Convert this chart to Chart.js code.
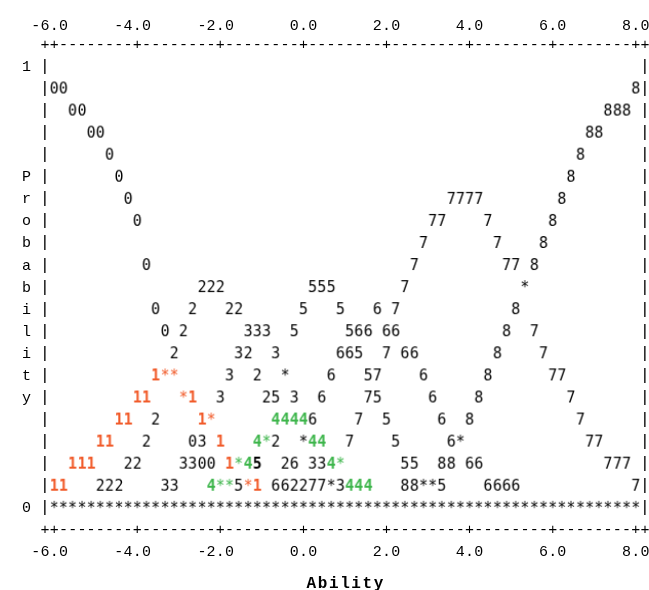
<!DOCTYPE html>
<html>
<head>
<meta charset="utf-8">
<title>Category probability curves</title>
<script src="https://cdn.jsdelivr.net/npm/chart.js@4.4.1/dist/chart.umd.min.js"></script>
<style>
  html, body { margin: 0; padding: 0; background: #ffffff; }
  canvas { display: block; }
</style>
</head>
<body>
<canvas id="chart" width="649" height="590"></canvas>
<script>
// Rating-scale categories, each plotted with its own digit
const categories = ['0', '1', '2', '3', '4', '5', '6', '7', '8'];

// Ability (logits) of each plotting column
const abilities = [
  -6.00, -5.78, -5.56, -5.33, -5.11, -4.89, -4.67, -4.44, -4.22, -4.00,
  -3.78, -3.56, -3.33, -3.11, -2.89, -2.67, -2.44, -2.22, -2.00, -1.78,
  -1.56, -1.33, -1.11, -0.89, -0.67, -0.44, -0.22, 0.00, 0.22, 0.44,
  0.67, 0.89, 1.11, 1.33, 1.56, 1.78, 2.00, 2.22, 2.44, 2.67,
  2.89, 3.11, 3.33, 3.56, 3.78, 4.00, 4.22, 4.44, 4.67, 4.89,
  5.11, 5.33, 5.56, 5.78, 6.00, 6.22, 6.44, 6.67, 6.89, 7.11,
  7.33, 7.56, 7.78, 8.00
];

// Probability of each category at each ability (printed to the nearest 0.05)
const prob0 = [
  0.95, 0.95, 0.90, 0.90, 0.85, 0.85, 0.80, 0.75, 0.70, 0.65,
  0.55, 0.45, 0.40, 0.30, 0.25, 0.15, 0.10, 0.10, 0.05, 0.05,
  0, 0, 0, 0, 0, 0, 0, 0, 0, 0,
  0, 0, 0, 0, 0, 0, 0, 0, 0, 0,
  0, 0, 0, 0, 0, 0, 0, 0, 0, 0,
  0, 0, 0, 0, 0, 0, 0, 0, 0, 0,
  0, 0, 0, 0
];
const prob1 = [
  0.05, 0.05, 0.10, 0.10, 0.10, 0.15, 0.15, 0.20, 0.20, 0.25,
  0.25, 0.30, 0.30, 0.30, 0.25, 0.25, 0.20, 0.20, 0.15, 0.10,
  0.10, 0.05, 0.05, 0, 0, 0, 0, 0, 0, 0,
  0, 0, 0, 0, 0, 0, 0, 0, 0, 0,
  0, 0, 0, 0, 0, 0, 0, 0, 0, 0,
  0, 0, 0, 0, 0, 0, 0, 0, 0, 0,
  0, 0, 0, 0
];
const prob2 = [
  0, 0, 0, 0, 0, 0.05, 0.05, 0.05, 0.10, 0.10,
  0.15, 0.20, 0.30, 0.35, 0.40, 0.45, 0.50, 0.50, 0.50, 0.45,
  0.45, 0.35, 0.30, 0.25, 0.15, 0.10, 0.05, 0.05, 0, 0,
  0, 0, 0, 0, 0, 0, 0, 0, 0, 0,
  0, 0, 0, 0, 0, 0, 0, 0, 0, 0,
  0, 0, 0, 0, 0, 0, 0, 0, 0, 0,
  0, 0, 0, 0
];
const prob3 = [
  0, 0, 0, 0, 0, 0, 0, 0, 0, 0,
  0, 0, 0.05, 0.05, 0.10, 0.10, 0.15, 0.20, 0.25, 0.30,
  0.35, 0.40, 0.40, 0.40, 0.35, 0.30, 0.25, 0.15, 0.10, 0.10,
  0.05, 0.05, 0, 0, 0, 0, 0, 0, 0, 0,
  0, 0, 0, 0, 0, 0, 0, 0, 0, 0,
  0, 0, 0, 0, 0, 0, 0, 0, 0, 0,
  0, 0, 0, 0
];
const prob4 = [
  0, 0, 0, 0, 0, 0, 0, 0, 0, 0,
  0, 0, 0, 0, 0, 0, 0, 0.05, 0.05, 0.05,
  0.10, 0.10, 0.15, 0.15, 0.20, 0.20, 0.20, 0.20, 0.15, 0.15,
  0.10, 0.10, 0.05, 0.05, 0.05, 0, 0, 0, 0, 0,
  0, 0, 0, 0, 0, 0, 0, 0, 0, 0,
  0, 0, 0, 0, 0, 0, 0, 0, 0, 0,
  0, 0, 0, 0
];
const prob5 = [
  0, 0, 0, 0, 0, 0, 0, 0, 0, 0,
  0, 0, 0, 0, 0, 0, 0, 0, 0, 0,
  0.05, 0.05, 0.10, 0.15, 0.25, 0.30, 0.40, 0.45, 0.50, 0.50,
  0.50, 0.45, 0.40, 0.35, 0.30, 0.25, 0.20, 0.15, 0.10, 0.10,
  0.05, 0.05, 0.05, 0, 0, 0, 0, 0, 0, 0,
  0, 0, 0, 0, 0, 0, 0, 0, 0, 0,
  0, 0, 0, 0
];
const prob6 = [
  0, 0, 0, 0, 0, 0, 0, 0, 0, 0,
  0, 0, 0, 0, 0, 0, 0, 0, 0, 0,
  0, 0, 0, 0, 0.05, 0.05, 0.10, 0.15, 0.20, 0.25,
  0.30, 0.35, 0.35, 0.40, 0.40, 0.45, 0.40, 0.40, 0.35, 0.35,
  0.30, 0.25, 0.20, 0.15, 0.15, 0.10, 0.10, 0.05, 0.05, 0.05,
  0.05, 0, 0, 0, 0, 0, 0, 0, 0, 0,
  0, 0, 0, 0
];
const prob7 = [
  0, 0, 0, 0, 0, 0, 0, 0, 0, 0,
  0, 0, 0, 0, 0, 0, 0, 0, 0, 0,
  0, 0, 0, 0, 0, 0, 0, 0, 0.05, 0.05,
  0.05, 0.10, 0.15, 0.20, 0.25, 0.30, 0.35, 0.45, 0.50, 0.55,
  0.60, 0.65, 0.65, 0.70, 0.70, 0.70, 0.70, 0.65, 0.60, 0.55,
  0.55, 0.50, 0.40, 0.35, 0.30, 0.30, 0.25, 0.20, 0.15, 0.15,
  0.10, 0.10, 0.10, 0.05
];
const prob8 = [
  0, 0, 0, 0, 0, 0, 0, 0, 0, 0,
  0, 0, 0, 0, 0, 0, 0, 0, 0, 0,
  0, 0, 0, 0, 0, 0, 0, 0, 0, 0,
  0, 0, 0, 0, 0, 0, 0, 0, 0.05, 0.05,
  0.05, 0.05, 0.10, 0.10, 0.15, 0.20, 0.25, 0.30, 0.35, 0.40,
  0.45, 0.50, 0.55, 0.60, 0.65, 0.70, 0.75, 0.80, 0.85, 0.85,
  0.90, 0.90, 0.90, 0.95
];

const abilityTicks = [-6, -4, -2, 0, 2, 4, 6, 8];
const probabilityTicks = [1, 0];
const xTitle = 'Ability';
const yTitle = 'Probability';

// Categories printed in colour (first listed wins a shared cell) and a cell printed bold
const highlightOrder = ['4', '1'];
const highlightColours = { '1': '#f15a29', '4': '#3cb54a' };
const boldCells = [{ category: '5', ability: -1.11 }];

// ---------------------------------------------------------------------------
const series = [prob0, prob1, prob2, prob3, prob4, prob5, prob6, prob7, prob8];
const ROW = 0.05;
const STEP = (abilities[abilities.length - 1] - abilities[0]) / (abilities.length - 1);
const INK = '#000000';
const DIGIT_FONT = '15px "DejaVu Sans Mono", monospace';
const LABEL_FONT = '15px "Liberation Mono", monospace';
const BAR_FONT = '17px "Liberation Mono", monospace';
const TITLE_FONT = 'bold 16px "Liberation Mono", monospace';
const BASE = 5.5; // baseline offset that centres a digit on its row

// Which categories land in each printed cell
const cellKey = (i, p) => i + '|' + Math.round(p * 100);
const cells = {};
series.forEach((vals, k) => vals.forEach((p, i) => {
  const id = cellKey(i, p);
  (cells[id] = cells[id] || []).push(k);
}));

const glyphCache = {};
function glyph(ch, colour, bold) {
  const id = ch + colour + (bold ? 'b' : '');
  if (glyphCache[id]) return glyphCache[id];
  const c = document.createElement('canvas');
  c.width = 16; c.height = 24;
  const g = c.getContext('2d');
  if (ch) {
    g.font = (bold ? 'bold ' : '') + DIGIT_FONT;
    g.fillStyle = colour;
    g.textAlign = 'center';
    g.textBaseline = 'alphabetic';
    g.fillText(ch, 8, 12 + BASE);
  }
  glyphCache[id] = c;
  return c;
}

// A digit for a lone category, an asterisk where several coincide
function pointGlyph(ctx) {
  const k = ctx.datasetIndex, i = ctx.dataIndex;
  const p = series[k][i];
  const shared = cells[cellKey(i, p)];
  if (shared.length > 1) {
    if (shared[0] !== k) return glyph('', INK, false);
    let colour = INK;
    if (p > 0) {
      const hit = highlightOrder.find(c => shared.includes(categories.indexOf(c)));
      if (hit) colour = highlightColours[hit];
    }
    return glyph('*', colour, false);
  }
  const cat = categories[k];
  const colour = highlightColours[cat] || INK;
  const bold = !!highlightColours[cat] ||
    boldCells.some(b => b.category === cat && Math.abs(b.ability - abilities[i]) < 1e-6);
  return glyph(cat, colour, bold);
}

// Frame, rules, tick labels and titles in the same character grid
const textLayer = {
  id: 'textLayer',
  afterDraw(chart) {
    const ctx = chart.ctx;
    const xs = chart.scales.x, ys = chart.scales.y;
    const colX = c => xs.getPixelForValue(abilities[0] + (c - 1) * STEP);
    const rowY = r => ys.getPixelForValue(1 - r * ROW);
    const put = (ch, x, y, font) => { ctx.font = font; ctx.fillText(ch, x, y + BASE); };
    ctx.save();
    ctx.fillStyle = INK;
    ctx.textAlign = 'center';
    ctx.textBaseline = 'alphabetic';

    const lastCol = abilities.length + 1;
    const rows = Math.round(1 / ROW);

    for (let r = 0; r <= rows; r++) {
      put('|', colX(0), rowY(r), BAR_FONT);
      put('|', colX(lastCol), rowY(r), BAR_FONT);
    }

    const tickCols = abilityTicks.map(t => Math.round((t - abilities[0]) / STEP) + 1);
    for (const r of [-1, rows + 1]) {
      for (let c = 0; c <= lastCol; c++) {
        const ch = (c === 0 || c === lastCol || tickCols.includes(c)) ? '+' : '-';
        put(ch, colX(c), rowY(r), LABEL_FONT);
      }
    }

    abilityTicks.forEach((t, j) => {
      const s = t.toFixed(1);
      const dot = s.indexOf('.');
      for (const r of [-1.87, rows + 2]) {
        [...s].forEach((ch, n) => put(ch, colX(tickCols[j] - dot + n), rowY(r), LABEL_FONT));
      }
    });

    probabilityTicks.forEach(v => put(String(v), colX(-2), ys.getPixelForValue(v), LABEL_FONT));

    const start = rows / 2 - Math.floor(yTitle.length / 2);
    [...yTitle].forEach((ch, n) => put(ch, colX(-2), rowY(start + n), LABEL_FONT));

    const cx = xs.getPixelForValue((xs.min + xs.max) / 2);
    const adv = 11.2;
    [...xTitle].forEach((ch, n) =>
      put(ch, cx + (n - (xTitle.length - 1) / 2) * adv, rowY(rows + 3.45), TITLE_FONT));

    ctx.restore();
  }
};

new Chart(document.getElementById('chart'), {
  type: 'scatter',
  data: {
    datasets: series.map((vals, k) => ({
      label: categories[k],
      data: vals.map((p, i) => ({ x: abilities[i], y: p })),
      pointStyle: pointGlyph,
      pointRadius: 5,
      pointHoverRadius: 5,
      clip: false
    }))
  },
  options: {
    responsive: false,
    animation: false,
    events: [],
    layout: { padding: { left: 54.2, right: 13.3, top: 65.4, bottom: 83.2 } },
    scales: {
      x: { type: 'linear', min: abilities[0], max: abilities[abilities.length - 1], display: false },
      y: { type: 'linear', min: 0, max: 1, display: false }
    },
    plugins: { legend: { display: false }, tooltip: { enabled: false } }
  },
  plugins: [textLayer]
});
</script>
</body>
</html>
